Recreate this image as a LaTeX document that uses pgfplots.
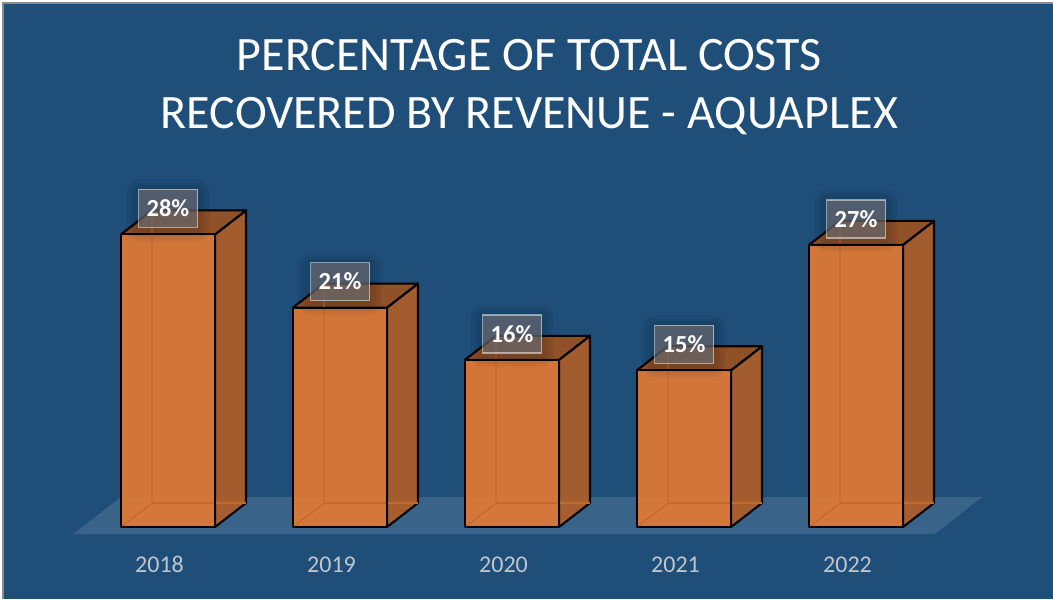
\documentclass[border=0pt]{standalone}
\usepackage{pgfplots}
\usepackage{pgfplotstable}
\usepackage{fontspec}
\setmainfont{Carlito}
\pgfplotsset{compat=1.18}

\definecolor{panel}{HTML}{1F4E79}
\definecolor{frontface}{HTML}{E57A33}
\definecolor{sideface}{HTML}{B25E25}
\definecolor{topface}{HTML}{9B5220}
\definecolor{hiddenedge}{HTML}{C66A2A}
\definecolor{yearlabel}{HTML}{BFC6CE}
\definecolor{tagfill}{HTML}{6A6A70}
\definecolor{frameline}{HTML}{8C8C8C}

% share of total costs recovered, per year
\pgfplotstableread{
pos year val
0 2018 28
1 2019 21
2 2020 16
3 2021 15
4 2022 27
}\costs

% oblique depth of each column, in axis units
\def\dx{0.1802}
\def\dy{2.297}
\def\xl{-0.2238}
\def\xr{0.3227}

% one layer of the soft shadow behind the value tags
\newcommand\tagshadow[1]{%
  \addplot[only marks, mark=none, point meta=explicit,
    nodes near coords={},
    every node near coord/.style={
      anchor=center, xshift=8.5bp, yshift=24bp,
      minimum width={59bp+#1}, minimum height={38bp+#1}, inner sep=0pt,
      rounded corners=#1/2, draw=none, fill=black, fill opacity=0.04},
  ] table[x=pos, y=val, meta=val] {\costs};
}

\begin{document}
\begin{tikzpicture}
\begin{axis}[
  scale only axis,
  width=1053bp, height=599bp,
  xmin=-0.92733, xmax=5.19477,
  ymin=-6.890, ymax=50.431,
  axis lines=none,
  axis background/.style={fill=panel},
  clip=false,
  xtick=\empty, ytick=\empty,
]
% floor
\addplot[draw=none, fill=white, fill opacity=0.12] coordinates
  {(-0.5029,-0.670) (-0.2238,2.87) (4.7820,2.87) (4.5087,-0.670)} -- cycle;

% side and top faces of every column
\pgfplotsforeachungrouped \i in {0,...,4}{
  \pgfplotstablegetelem{\i}{val}\of\costs
  \let\v\pgfplotsretval
  \pgfmathsetmacro\xa{\i+\xl}
  \pgfmathsetmacro\xb{\i+\xr}
  \pgfmathsetmacro\xc{\i+\xr+\dx}
  \pgfmathsetmacro\xd{\i+\xl+\dx}
  \pgfmathsetmacro\yb{\v+\dy}
  \addplot[draw=black, line width=2.1bp, line join=round, fill=sideface, fill opacity=0.9]
    coordinates {(\xb,0) (\xc,\dy) (\xc,\yb) (\xb,\v)} -- cycle;
  \addplot[draw=black, line width=2.1bp, line join=round, fill=topface, fill opacity=0.9]
    coordinates {(\xa,\v) (\xd,\yb) (\xc,\yb) (\xb,\v)} -- cycle;
}

% front faces
\addplot[ybar, bar width=94bp, bar shift=8.5bp, draw=none, fill=frontface, fill opacity=0.9]
  table[x=pos, y=val] {\costs};

% edges seen through the front face
\pgfplotsforeachungrouped \i in {0,...,4}{
  \pgfplotstablegetelem{\i}{val}\of\costs
  \let\v\pgfplotsretval
  \pgfmathsetmacro\xa{\i+\xl}
  \pgfmathsetmacro\xd{\i+\xl+\dx}
  \pgfmathsetmacro\xc{\i+\xr+\dx}
  \pgfmathsetmacro\yb{\v+\dy}
  \addplot[draw=hiddenedge, line width=1.3bp] coordinates {(\xa,0) (\xd,\dy) (\xd,\yb)};
  \addplot[draw=hiddenedge, line width=1.3bp] coordinates {(\xd,\dy) (\xc,\dy)};
}

% front outlines
\addplot[ybar, bar width=94bp, bar shift=8.5bp, draw=black, line width=2.1bp, line join=round, fill=none]
  table[x=pos, y=val] {\costs};

% soft shadow behind the tags
\tagshadow{6bp}
\tagshadow{12bp}
\tagshadow{18bp}
\tagshadow{24bp}

% value tags
\addplot[only marks, mark=none,
  point meta=explicit,
  nodes near coords={\pgfmathprintnumber{\pgfplotspointmeta}\%},
  every node near coord/.style={
    anchor=center, xshift=8.5bp, yshift=26bp,
    minimum width=59bp, minimum height=38bp, inner sep=0pt,
    draw=white, draw opacity=0.5, line width=1.4bp,
    fill=tagfill, fill opacity=0.7, text opacity=1, text=white,
    font=\fontsize{24.5bp}{26bp}\selectfont\bfseries,
    /pgf/number format/assume math mode=true},
] table[x=pos, y=val, meta=val] {\costs};

% year labels
\pgfplotsforeachungrouped \i in {0,...,4}{
  \pgfplotstablegetelem{\i}{year}\of\costs
  \let\yr\pgfplotsretval
  \edef\cmd{\noexpand\node[text=yearlabel, font=\noexpand\fontsize{24bp}{26bp}\noexpand\selectfont, anchor=center]
    at (axis cs:\i,-3.60) {\yr};}
  \cmd
}

\node[text=white, align=center, anchor=center,
      font=\fontsize{48bp}{58bp}\selectfont]
  at (axis description cs:0.5028,0.8548)
  {PERCENTAGE OF TOTAL COSTS\\RECOVERED BY REVENUE - AQUAPLEX};

% slide frame along the top and left edges
\fill[white] (axis description cs:0,1) rectangle (axis description cs:1,0.9967);
\fill[white] (axis description cs:0,1) rectangle (axis description cs:0.0019,0);
\fill[frameline] (axis description cs:0.0019,0.9967) rectangle (axis description cs:1,0.9934);
\fill[frameline] (axis description cs:0.0019,0.9967) rectangle (axis description cs:0.0038,0);
\end{axis}
\end{tikzpicture}
\end{document}
